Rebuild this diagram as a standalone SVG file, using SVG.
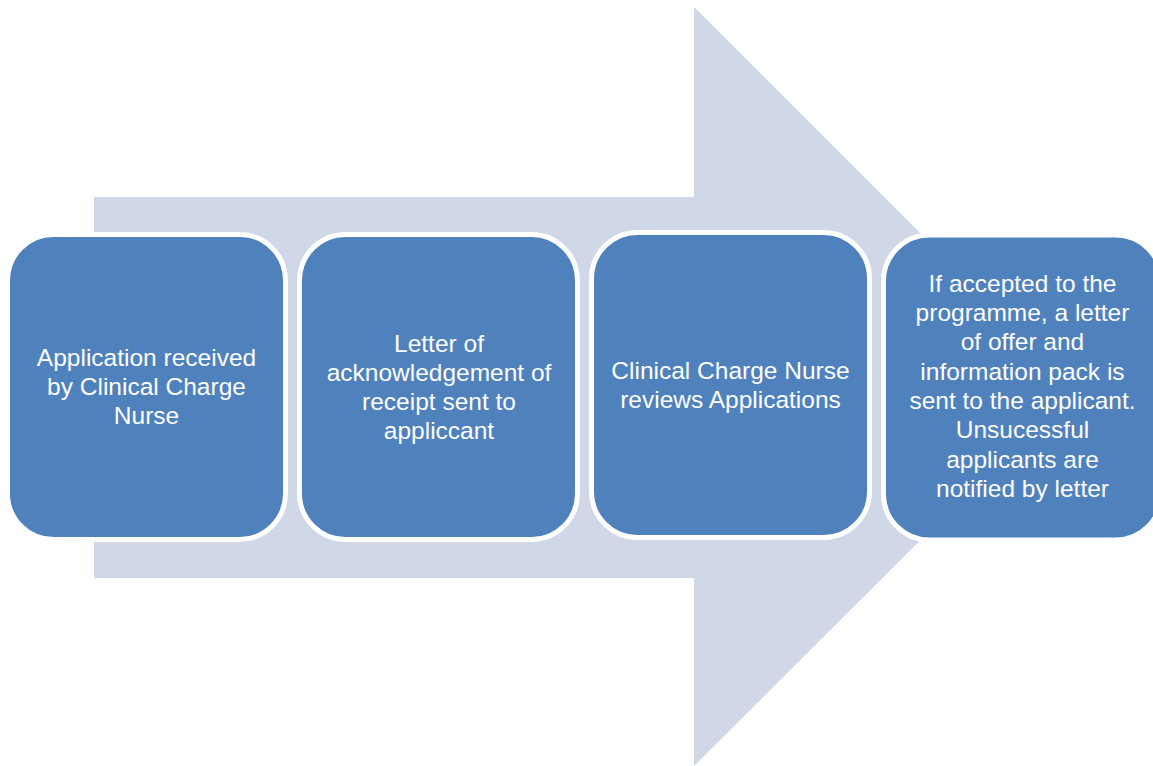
<svg xmlns="http://www.w3.org/2000/svg" width="1153" height="766" viewBox="0 0 1153 766">
<style>
.box{fill:#4F81BD;stroke:#FFFFFF;stroke-width:5}
.lbl{fill:#FFFFFF;font-family:"Liberation Sans",Arial,sans-serif;font-size:24.5px;text-anchor:middle}
</style>
<rect width="1153" height="766" fill="#FFFFFF"/>
<g id="arrow">
<polygon points="94,197 694,197 694,7 1074,387 694,766 694,578 94,578" fill="#D0D8E8"/>
</g>
<g id="connectors"></g>
<g id="step1">
<rect class="box" x="7.5" y="234.5" width="278" height="305" rx="46" ry="46"/>
<text class="lbl" x="146.5" y="366">Application received</text>
<text class="lbl" x="146.5" y="395">by Clinical Charge</text>
<text class="lbl" x="146.5" y="424">Nurse</text>
</g>
<g id="step2">
<rect class="box" x="299.5" y="234.5" width="278" height="305" rx="46" ry="46"/>
<text class="lbl" x="439" y="352">Letter of</text>
<text class="lbl" x="439" y="381">acknowledgement of</text>
<text class="lbl" x="439" y="410">receipt sent to</text>
<text class="lbl" x="439" y="439">appliccant</text>
</g>
<g id="step3">
<rect class="box" x="591.5" y="232.5" width="278" height="305" rx="46" ry="46"/>
<text class="lbl" x="730.5" y="379">Clinical Charge Nurse</text>
<text class="lbl" x="730.5" y="408">reviews Applications</text>
</g>
<g id="step4">
<rect class="box" x="883.5" y="235" width="278" height="305" rx="46" ry="46"/>
<text class="lbl" x="1022.5" y="292">If accepted to the</text>
<text class="lbl" x="1022.5" y="321">programme, a letter</text>
<text class="lbl" x="1022.5" y="350">of offer and</text>
<text class="lbl" x="1022.5" y="380">information pack is</text>
<text class="lbl" x="1022.5" y="409">sent to the applicant.</text>
<text class="lbl" x="1022.5" y="438">Unsucessful</text>
<text class="lbl" x="1022.5" y="468">applicants are</text>
<text class="lbl" x="1022.5" y="497">notified by letter</text>
</g>
</svg>
